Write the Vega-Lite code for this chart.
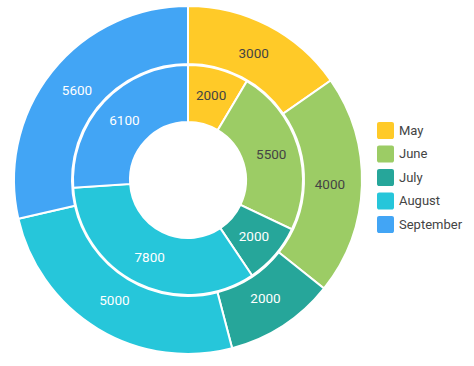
{
  "$schema": "https://vega.github.io/schema/vega-lite/v6.json",
  "width": 376,
  "height": 360,
  "padding": 0,
  "background": "white",
  "config": {"view": {"stroke": null}, "font": "Roboto"},
  "data": {"values": [
    {"ring": "outer", "month": "May", "idx": 1, "value": 3000},
    {"ring": "outer", "month": "June", "idx": 2, "value": 4000},
    {"ring": "outer", "month": "July", "idx": 3, "value": 2000},
    {"ring": "outer", "month": "August", "idx": 4, "value": 5000},
    {"ring": "outer", "month": "September", "idx": 5, "value": 5600},
    {"ring": "inner", "month": "May", "idx": 1, "value": 2000},
    {"ring": "inner", "month": "June", "idx": 2, "value": 5500},
    {"ring": "inner", "month": "July", "idx": 3, "value": 2000},
    {"ring": "inner", "month": "August", "idx": 4, "value": 7800},
    {"ring": "inner", "month": "September", "idx": 5, "value": 6100}
  ]},
  "encoding": {
    "theta": {"field": "value", "type": "quantitative", "stack": true},
    "order": {"field": "idx", "type": "quantitative"},
    "color": {
      "field": "month", "type": "nominal",
      "scale": {"domain": ["May", "June", "July", "August", "September"],
                "range": ["#FFCA28", "#9CCC65", "#26A69A", "#26C6DA", "#42A5F5"]},
      "legend": {
        "title": null, "orient": "none", "legendX": 377, "legendY": 122,
        "symbolType": "M -0.75,-1 L 0.75,-1 A 0.25,0.25 0 0 1 1,-0.75 L 1,0.75 A 0.25,0.25 0 0 1 0.75,1 L -0.75,1 A 0.25,0.25 0 0 1 -1,0.75 L -1,-0.75 A 0.25,0.25 0 0 1 -0.75,-1 Z",
        "symbolSize": 289, "symbolStrokeWidth": 0, "symbolOpacity": 1,
        "labelFontSize": 13, "labelColor": "#444", "labelFont": "Roboto",
        "labelOffset": 5, "rowPadding": 6.5, "padding": 0
      }
    }
  },
  "layer": [
    {"transform": [{"filter": "datum.ring === 'outer'"}],
     "mark": {"type": "arc", "radius": 174, "radius2": 116, "stroke": "white", "strokeWidth": 2}},
    {"transform": [{"filter": "datum.ring === 'inner'"}],
     "mark": {"type": "arc", "radius": 115, "radius2": 58, "stroke": "white", "strokeWidth": 2}},
    {"transform": [{"filter": "datum.ring === 'outer'"}],
     "mark": {"type": "text", "radius": 142, "fontSize": 13.5, "font": "Roboto"},
     "encoding": {
       "text": {"field": "value", "type": "nominal"},
       "color": {"condition": {"test": "datum.month === 'May' || datum.month === 'June'", "value": "#444"}, "value": "white"}
     }},
    {"transform": [{"filter": "datum.ring === 'inner'"}],
     "mark": {"type": "text", "radius": 87, "fontSize": 13.5, "font": "Roboto"},
     "encoding": {
       "text": {"field": "value", "type": "nominal"},
       "color": {"condition": {"test": "datum.month === 'May' || datum.month === 'June'", "value": "#444"}, "value": "white"}
     }}
  ],
  "resolve": {"scale": {"theta": "independent"}}
}
